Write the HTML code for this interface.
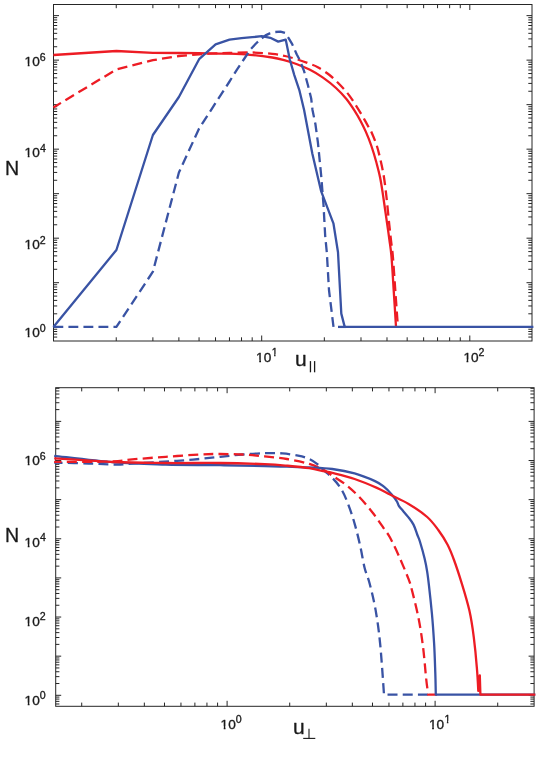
<!DOCTYPE html>
<html><head><meta charset="utf-8"><title>N vs u</title>
<style>
html,body{margin:0;padding:0;background:#fff;}
body{width:538px;height:763px;overflow:hidden;font-family:"Liberation Sans",sans-serif;}
svg{display:block;font-family:"Liberation Sans",sans-serif;}
</style></head><body>
<svg width="538" height="763" viewBox="0 0 538 763">
<rect width="538" height="763" fill="#fff"/>
<line x1="116.24" y1="341.00" x2="116.24" y2="337.30" stroke="#262626" stroke-width="1.0"/>
<line x1="116.24" y1="4.50" x2="116.24" y2="8.20" stroke="#262626" stroke-width="1.0"/>
<line x1="152.89" y1="341.00" x2="152.89" y2="337.30" stroke="#262626" stroke-width="1.0"/>
<line x1="152.89" y1="4.50" x2="152.89" y2="8.20" stroke="#262626" stroke-width="1.0"/>
<line x1="178.89" y1="341.00" x2="178.89" y2="337.30" stroke="#262626" stroke-width="1.0"/>
<line x1="178.89" y1="4.50" x2="178.89" y2="8.20" stroke="#262626" stroke-width="1.0"/>
<line x1="199.06" y1="341.00" x2="199.06" y2="337.30" stroke="#262626" stroke-width="1.0"/>
<line x1="199.06" y1="4.50" x2="199.06" y2="8.20" stroke="#262626" stroke-width="1.0"/>
<line x1="215.53" y1="341.00" x2="215.53" y2="337.30" stroke="#262626" stroke-width="1.0"/>
<line x1="215.53" y1="4.50" x2="215.53" y2="8.20" stroke="#262626" stroke-width="1.0"/>
<line x1="229.46" y1="341.00" x2="229.46" y2="337.30" stroke="#262626" stroke-width="1.0"/>
<line x1="229.46" y1="4.50" x2="229.46" y2="8.20" stroke="#262626" stroke-width="1.0"/>
<line x1="241.53" y1="341.00" x2="241.53" y2="337.30" stroke="#262626" stroke-width="1.0"/>
<line x1="241.53" y1="4.50" x2="241.53" y2="8.20" stroke="#262626" stroke-width="1.0"/>
<line x1="252.18" y1="341.00" x2="252.18" y2="337.30" stroke="#262626" stroke-width="1.0"/>
<line x1="252.18" y1="4.50" x2="252.18" y2="8.20" stroke="#262626" stroke-width="1.0"/>
<line x1="261.70" y1="341.00" x2="261.70" y2="335.50" stroke="#262626" stroke-width="1.0"/>
<line x1="261.70" y1="4.50" x2="261.70" y2="10.00" stroke="#262626" stroke-width="1.0"/>
<line x1="324.34" y1="341.00" x2="324.34" y2="337.30" stroke="#262626" stroke-width="1.0"/>
<line x1="324.34" y1="4.50" x2="324.34" y2="8.20" stroke="#262626" stroke-width="1.0"/>
<line x1="360.99" y1="341.00" x2="360.99" y2="337.30" stroke="#262626" stroke-width="1.0"/>
<line x1="360.99" y1="4.50" x2="360.99" y2="8.20" stroke="#262626" stroke-width="1.0"/>
<line x1="386.99" y1="341.00" x2="386.99" y2="337.30" stroke="#262626" stroke-width="1.0"/>
<line x1="386.99" y1="4.50" x2="386.99" y2="8.20" stroke="#262626" stroke-width="1.0"/>
<line x1="407.16" y1="341.00" x2="407.16" y2="337.30" stroke="#262626" stroke-width="1.0"/>
<line x1="407.16" y1="4.50" x2="407.16" y2="8.20" stroke="#262626" stroke-width="1.0"/>
<line x1="423.63" y1="341.00" x2="423.63" y2="337.30" stroke="#262626" stroke-width="1.0"/>
<line x1="423.63" y1="4.50" x2="423.63" y2="8.20" stroke="#262626" stroke-width="1.0"/>
<line x1="437.56" y1="341.00" x2="437.56" y2="337.30" stroke="#262626" stroke-width="1.0"/>
<line x1="437.56" y1="4.50" x2="437.56" y2="8.20" stroke="#262626" stroke-width="1.0"/>
<line x1="449.63" y1="341.00" x2="449.63" y2="337.30" stroke="#262626" stroke-width="1.0"/>
<line x1="449.63" y1="4.50" x2="449.63" y2="8.20" stroke="#262626" stroke-width="1.0"/>
<line x1="460.28" y1="341.00" x2="460.28" y2="337.30" stroke="#262626" stroke-width="1.0"/>
<line x1="460.28" y1="4.50" x2="460.28" y2="8.20" stroke="#262626" stroke-width="1.0"/>
<line x1="469.80" y1="341.00" x2="469.80" y2="335.50" stroke="#262626" stroke-width="1.0"/>
<line x1="469.80" y1="4.50" x2="469.80" y2="10.00" stroke="#262626" stroke-width="1.0"/>
<line x1="53.50" y1="337.07" x2="57.20" y2="337.07" stroke="#262626" stroke-width="1.0"/>
<line x1="532.00" y1="337.07" x2="528.30" y2="337.07" stroke="#262626" stroke-width="1.0"/>
<line x1="53.50" y1="334.09" x2="57.20" y2="334.09" stroke="#262626" stroke-width="1.0"/>
<line x1="532.00" y1="334.09" x2="528.30" y2="334.09" stroke="#262626" stroke-width="1.0"/>
<line x1="53.50" y1="331.51" x2="57.20" y2="331.51" stroke="#262626" stroke-width="1.0"/>
<line x1="532.00" y1="331.51" x2="528.30" y2="331.51" stroke="#262626" stroke-width="1.0"/>
<line x1="53.50" y1="329.24" x2="57.20" y2="329.24" stroke="#262626" stroke-width="1.0"/>
<line x1="532.00" y1="329.24" x2="528.30" y2="329.24" stroke="#262626" stroke-width="1.0"/>
<line x1="53.50" y1="327.20" x2="59.00" y2="327.20" stroke="#262626" stroke-width="1.0"/>
<line x1="532.00" y1="327.20" x2="526.50" y2="327.20" stroke="#262626" stroke-width="1.0"/>
<line x1="53.50" y1="313.80" x2="57.20" y2="313.80" stroke="#262626" stroke-width="1.0"/>
<line x1="532.00" y1="313.80" x2="528.30" y2="313.80" stroke="#262626" stroke-width="1.0"/>
<line x1="53.50" y1="305.96" x2="57.20" y2="305.96" stroke="#262626" stroke-width="1.0"/>
<line x1="532.00" y1="305.96" x2="528.30" y2="305.96" stroke="#262626" stroke-width="1.0"/>
<line x1="53.50" y1="300.40" x2="57.20" y2="300.40" stroke="#262626" stroke-width="1.0"/>
<line x1="532.00" y1="300.40" x2="528.30" y2="300.40" stroke="#262626" stroke-width="1.0"/>
<line x1="53.50" y1="296.09" x2="57.20" y2="296.09" stroke="#262626" stroke-width="1.0"/>
<line x1="532.00" y1="296.09" x2="528.30" y2="296.09" stroke="#262626" stroke-width="1.0"/>
<line x1="53.50" y1="292.56" x2="57.20" y2="292.56" stroke="#262626" stroke-width="1.0"/>
<line x1="532.00" y1="292.56" x2="528.30" y2="292.56" stroke="#262626" stroke-width="1.0"/>
<line x1="53.50" y1="289.58" x2="57.20" y2="289.58" stroke="#262626" stroke-width="1.0"/>
<line x1="532.00" y1="289.58" x2="528.30" y2="289.58" stroke="#262626" stroke-width="1.0"/>
<line x1="53.50" y1="287.00" x2="57.20" y2="287.00" stroke="#262626" stroke-width="1.0"/>
<line x1="532.00" y1="287.00" x2="528.30" y2="287.00" stroke="#262626" stroke-width="1.0"/>
<line x1="53.50" y1="284.73" x2="57.20" y2="284.73" stroke="#262626" stroke-width="1.0"/>
<line x1="532.00" y1="284.73" x2="528.30" y2="284.73" stroke="#262626" stroke-width="1.0"/>
<line x1="53.50" y1="282.69" x2="59.00" y2="282.69" stroke="#262626" stroke-width="1.0"/>
<line x1="532.00" y1="282.69" x2="526.50" y2="282.69" stroke="#262626" stroke-width="1.0"/>
<line x1="53.50" y1="269.29" x2="57.20" y2="269.29" stroke="#262626" stroke-width="1.0"/>
<line x1="532.00" y1="269.29" x2="528.30" y2="269.29" stroke="#262626" stroke-width="1.0"/>
<line x1="53.50" y1="261.45" x2="57.20" y2="261.45" stroke="#262626" stroke-width="1.0"/>
<line x1="532.00" y1="261.45" x2="528.30" y2="261.45" stroke="#262626" stroke-width="1.0"/>
<line x1="53.50" y1="255.89" x2="57.20" y2="255.89" stroke="#262626" stroke-width="1.0"/>
<line x1="532.00" y1="255.89" x2="528.30" y2="255.89" stroke="#262626" stroke-width="1.0"/>
<line x1="53.50" y1="251.58" x2="57.20" y2="251.58" stroke="#262626" stroke-width="1.0"/>
<line x1="532.00" y1="251.58" x2="528.30" y2="251.58" stroke="#262626" stroke-width="1.0"/>
<line x1="53.50" y1="248.05" x2="57.20" y2="248.05" stroke="#262626" stroke-width="1.0"/>
<line x1="532.00" y1="248.05" x2="528.30" y2="248.05" stroke="#262626" stroke-width="1.0"/>
<line x1="53.50" y1="245.07" x2="57.20" y2="245.07" stroke="#262626" stroke-width="1.0"/>
<line x1="532.00" y1="245.07" x2="528.30" y2="245.07" stroke="#262626" stroke-width="1.0"/>
<line x1="53.50" y1="242.49" x2="57.20" y2="242.49" stroke="#262626" stroke-width="1.0"/>
<line x1="532.00" y1="242.49" x2="528.30" y2="242.49" stroke="#262626" stroke-width="1.0"/>
<line x1="53.50" y1="240.22" x2="57.20" y2="240.22" stroke="#262626" stroke-width="1.0"/>
<line x1="532.00" y1="240.22" x2="528.30" y2="240.22" stroke="#262626" stroke-width="1.0"/>
<line x1="53.50" y1="238.18" x2="59.00" y2="238.18" stroke="#262626" stroke-width="1.0"/>
<line x1="532.00" y1="238.18" x2="526.50" y2="238.18" stroke="#262626" stroke-width="1.0"/>
<line x1="53.50" y1="224.78" x2="57.20" y2="224.78" stroke="#262626" stroke-width="1.0"/>
<line x1="532.00" y1="224.78" x2="528.30" y2="224.78" stroke="#262626" stroke-width="1.0"/>
<line x1="53.50" y1="216.94" x2="57.20" y2="216.94" stroke="#262626" stroke-width="1.0"/>
<line x1="532.00" y1="216.94" x2="528.30" y2="216.94" stroke="#262626" stroke-width="1.0"/>
<line x1="53.50" y1="211.38" x2="57.20" y2="211.38" stroke="#262626" stroke-width="1.0"/>
<line x1="532.00" y1="211.38" x2="528.30" y2="211.38" stroke="#262626" stroke-width="1.0"/>
<line x1="53.50" y1="207.07" x2="57.20" y2="207.07" stroke="#262626" stroke-width="1.0"/>
<line x1="532.00" y1="207.07" x2="528.30" y2="207.07" stroke="#262626" stroke-width="1.0"/>
<line x1="53.50" y1="203.54" x2="57.20" y2="203.54" stroke="#262626" stroke-width="1.0"/>
<line x1="532.00" y1="203.54" x2="528.30" y2="203.54" stroke="#262626" stroke-width="1.0"/>
<line x1="53.50" y1="200.56" x2="57.20" y2="200.56" stroke="#262626" stroke-width="1.0"/>
<line x1="532.00" y1="200.56" x2="528.30" y2="200.56" stroke="#262626" stroke-width="1.0"/>
<line x1="53.50" y1="197.98" x2="57.20" y2="197.98" stroke="#262626" stroke-width="1.0"/>
<line x1="532.00" y1="197.98" x2="528.30" y2="197.98" stroke="#262626" stroke-width="1.0"/>
<line x1="53.50" y1="195.71" x2="57.20" y2="195.71" stroke="#262626" stroke-width="1.0"/>
<line x1="532.00" y1="195.71" x2="528.30" y2="195.71" stroke="#262626" stroke-width="1.0"/>
<line x1="53.50" y1="193.67" x2="59.00" y2="193.67" stroke="#262626" stroke-width="1.0"/>
<line x1="532.00" y1="193.67" x2="526.50" y2="193.67" stroke="#262626" stroke-width="1.0"/>
<line x1="53.50" y1="180.27" x2="57.20" y2="180.27" stroke="#262626" stroke-width="1.0"/>
<line x1="532.00" y1="180.27" x2="528.30" y2="180.27" stroke="#262626" stroke-width="1.0"/>
<line x1="53.50" y1="172.43" x2="57.20" y2="172.43" stroke="#262626" stroke-width="1.0"/>
<line x1="532.00" y1="172.43" x2="528.30" y2="172.43" stroke="#262626" stroke-width="1.0"/>
<line x1="53.50" y1="166.87" x2="57.20" y2="166.87" stroke="#262626" stroke-width="1.0"/>
<line x1="532.00" y1="166.87" x2="528.30" y2="166.87" stroke="#262626" stroke-width="1.0"/>
<line x1="53.50" y1="162.56" x2="57.20" y2="162.56" stroke="#262626" stroke-width="1.0"/>
<line x1="532.00" y1="162.56" x2="528.30" y2="162.56" stroke="#262626" stroke-width="1.0"/>
<line x1="53.50" y1="159.03" x2="57.20" y2="159.03" stroke="#262626" stroke-width="1.0"/>
<line x1="532.00" y1="159.03" x2="528.30" y2="159.03" stroke="#262626" stroke-width="1.0"/>
<line x1="53.50" y1="156.05" x2="57.20" y2="156.05" stroke="#262626" stroke-width="1.0"/>
<line x1="532.00" y1="156.05" x2="528.30" y2="156.05" stroke="#262626" stroke-width="1.0"/>
<line x1="53.50" y1="153.47" x2="57.20" y2="153.47" stroke="#262626" stroke-width="1.0"/>
<line x1="532.00" y1="153.47" x2="528.30" y2="153.47" stroke="#262626" stroke-width="1.0"/>
<line x1="53.50" y1="151.20" x2="57.20" y2="151.20" stroke="#262626" stroke-width="1.0"/>
<line x1="532.00" y1="151.20" x2="528.30" y2="151.20" stroke="#262626" stroke-width="1.0"/>
<line x1="53.50" y1="149.16" x2="59.00" y2="149.16" stroke="#262626" stroke-width="1.0"/>
<line x1="532.00" y1="149.16" x2="526.50" y2="149.16" stroke="#262626" stroke-width="1.0"/>
<line x1="53.50" y1="135.76" x2="57.20" y2="135.76" stroke="#262626" stroke-width="1.0"/>
<line x1="532.00" y1="135.76" x2="528.30" y2="135.76" stroke="#262626" stroke-width="1.0"/>
<line x1="53.50" y1="127.92" x2="57.20" y2="127.92" stroke="#262626" stroke-width="1.0"/>
<line x1="532.00" y1="127.92" x2="528.30" y2="127.92" stroke="#262626" stroke-width="1.0"/>
<line x1="53.50" y1="122.36" x2="57.20" y2="122.36" stroke="#262626" stroke-width="1.0"/>
<line x1="532.00" y1="122.36" x2="528.30" y2="122.36" stroke="#262626" stroke-width="1.0"/>
<line x1="53.50" y1="118.05" x2="57.20" y2="118.05" stroke="#262626" stroke-width="1.0"/>
<line x1="532.00" y1="118.05" x2="528.30" y2="118.05" stroke="#262626" stroke-width="1.0"/>
<line x1="53.50" y1="114.52" x2="57.20" y2="114.52" stroke="#262626" stroke-width="1.0"/>
<line x1="532.00" y1="114.52" x2="528.30" y2="114.52" stroke="#262626" stroke-width="1.0"/>
<line x1="53.50" y1="111.54" x2="57.20" y2="111.54" stroke="#262626" stroke-width="1.0"/>
<line x1="532.00" y1="111.54" x2="528.30" y2="111.54" stroke="#262626" stroke-width="1.0"/>
<line x1="53.50" y1="108.96" x2="57.20" y2="108.96" stroke="#262626" stroke-width="1.0"/>
<line x1="532.00" y1="108.96" x2="528.30" y2="108.96" stroke="#262626" stroke-width="1.0"/>
<line x1="53.50" y1="106.69" x2="57.20" y2="106.69" stroke="#262626" stroke-width="1.0"/>
<line x1="532.00" y1="106.69" x2="528.30" y2="106.69" stroke="#262626" stroke-width="1.0"/>
<line x1="53.50" y1="104.65" x2="59.00" y2="104.65" stroke="#262626" stroke-width="1.0"/>
<line x1="532.00" y1="104.65" x2="526.50" y2="104.65" stroke="#262626" stroke-width="1.0"/>
<line x1="53.50" y1="91.25" x2="57.20" y2="91.25" stroke="#262626" stroke-width="1.0"/>
<line x1="532.00" y1="91.25" x2="528.30" y2="91.25" stroke="#262626" stroke-width="1.0"/>
<line x1="53.50" y1="83.41" x2="57.20" y2="83.41" stroke="#262626" stroke-width="1.0"/>
<line x1="532.00" y1="83.41" x2="528.30" y2="83.41" stroke="#262626" stroke-width="1.0"/>
<line x1="53.50" y1="77.85" x2="57.20" y2="77.85" stroke="#262626" stroke-width="1.0"/>
<line x1="532.00" y1="77.85" x2="528.30" y2="77.85" stroke="#262626" stroke-width="1.0"/>
<line x1="53.50" y1="73.54" x2="57.20" y2="73.54" stroke="#262626" stroke-width="1.0"/>
<line x1="532.00" y1="73.54" x2="528.30" y2="73.54" stroke="#262626" stroke-width="1.0"/>
<line x1="53.50" y1="70.01" x2="57.20" y2="70.01" stroke="#262626" stroke-width="1.0"/>
<line x1="532.00" y1="70.01" x2="528.30" y2="70.01" stroke="#262626" stroke-width="1.0"/>
<line x1="53.50" y1="67.03" x2="57.20" y2="67.03" stroke="#262626" stroke-width="1.0"/>
<line x1="532.00" y1="67.03" x2="528.30" y2="67.03" stroke="#262626" stroke-width="1.0"/>
<line x1="53.50" y1="64.45" x2="57.20" y2="64.45" stroke="#262626" stroke-width="1.0"/>
<line x1="532.00" y1="64.45" x2="528.30" y2="64.45" stroke="#262626" stroke-width="1.0"/>
<line x1="53.50" y1="62.18" x2="57.20" y2="62.18" stroke="#262626" stroke-width="1.0"/>
<line x1="532.00" y1="62.18" x2="528.30" y2="62.18" stroke="#262626" stroke-width="1.0"/>
<line x1="53.50" y1="60.14" x2="59.00" y2="60.14" stroke="#262626" stroke-width="1.0"/>
<line x1="532.00" y1="60.14" x2="526.50" y2="60.14" stroke="#262626" stroke-width="1.0"/>
<line x1="53.50" y1="46.74" x2="57.20" y2="46.74" stroke="#262626" stroke-width="1.0"/>
<line x1="532.00" y1="46.74" x2="528.30" y2="46.74" stroke="#262626" stroke-width="1.0"/>
<line x1="53.50" y1="38.90" x2="57.20" y2="38.90" stroke="#262626" stroke-width="1.0"/>
<line x1="532.00" y1="38.90" x2="528.30" y2="38.90" stroke="#262626" stroke-width="1.0"/>
<line x1="53.50" y1="33.34" x2="57.20" y2="33.34" stroke="#262626" stroke-width="1.0"/>
<line x1="532.00" y1="33.34" x2="528.30" y2="33.34" stroke="#262626" stroke-width="1.0"/>
<line x1="53.50" y1="29.03" x2="57.20" y2="29.03" stroke="#262626" stroke-width="1.0"/>
<line x1="532.00" y1="29.03" x2="528.30" y2="29.03" stroke="#262626" stroke-width="1.0"/>
<line x1="53.50" y1="25.50" x2="57.20" y2="25.50" stroke="#262626" stroke-width="1.0"/>
<line x1="532.00" y1="25.50" x2="528.30" y2="25.50" stroke="#262626" stroke-width="1.0"/>
<line x1="53.50" y1="22.52" x2="57.20" y2="22.52" stroke="#262626" stroke-width="1.0"/>
<line x1="532.00" y1="22.52" x2="528.30" y2="22.52" stroke="#262626" stroke-width="1.0"/>
<line x1="53.50" y1="19.94" x2="57.20" y2="19.94" stroke="#262626" stroke-width="1.0"/>
<line x1="532.00" y1="19.94" x2="528.30" y2="19.94" stroke="#262626" stroke-width="1.0"/>
<line x1="53.50" y1="17.67" x2="57.20" y2="17.67" stroke="#262626" stroke-width="1.0"/>
<line x1="532.00" y1="17.67" x2="528.30" y2="17.67" stroke="#262626" stroke-width="1.0"/>
<line x1="53.50" y1="15.63" x2="59.00" y2="15.63" stroke="#262626" stroke-width="1.0"/>
<line x1="532.00" y1="15.63" x2="526.50" y2="15.63" stroke="#262626" stroke-width="1.0"/>
<rect x="53.50" y="4.50" width="478.50" height="336.50" fill="none" stroke="#262626" stroke-width="1"/>
<path d="M53.4,107.4 L116.4,69.5 L152.9,60.2 L178.9,56.0 L199.1,54.3 C201.8,54.1 210.5,53.6 215.6,53.4 C220.7,53.2 223.9,53.2 229.5,53.0 C235.1,52.8 242.1,52.3 249.2,52.4 C256.3,52.5 266.3,53.2 272.3,53.8 C278.3,54.4 280.9,55.1 285.0,56.0 C289.1,56.9 292.8,58.0 297.0,59.3 C301.2,60.6 306.5,62.6 310.0,63.9 C313.5,65.2 314.6,65.4 317.8,67.2 C321.1,69.0 325.8,72.1 329.5,75.0 C333.2,77.9 336.6,81.4 339.9,84.7 C343.1,88.0 346.2,91.4 349.0,95.1 C351.8,98.8 354.2,102.7 356.8,106.8 C359.4,110.9 362.5,116.2 364.6,119.8 C366.7,123.4 368.1,126.3 369.2,128.3 C370.3,130.3 370.1,129.0 371.4,131.9 C372.7,134.8 375.3,141.0 376.9,146.0 C378.5,151.0 379.7,156.6 380.9,161.8 C382.1,167.1 383.1,171.7 384.0,177.5 C384.9,183.3 385.5,188.5 386.4,196.4 C387.3,204.3 388.5,217.5 389.3,224.8 C390.1,232.2 390.4,235.2 391.0,240.5 C391.6,245.8 392.2,248.2 392.9,256.8 C393.6,265.4 394.6,280.3 395.4,292.0 C396.2,303.7 397.5,321.0 397.9,326.8" fill="none" stroke="#ed1c24" stroke-width="2.3" stroke-linejoin="round" stroke-dasharray="10 5.2" stroke-dashoffset="1.2"/>
<path d="M53.4,55.0 L116.4,51.0 L152.9,52.8 L178.9,53.0 L199.1,53.2 C203.8,53.3 218.5,53.3 227.0,53.6 C235.5,53.9 242.4,54.1 250.0,54.8 C257.6,55.4 266.5,56.6 272.3,57.5 C278.1,58.4 280.9,59.3 285.0,60.4 C289.1,61.5 292.8,62.6 297.0,64.2 C301.2,65.8 305.7,67.6 310.0,69.8 C314.3,72.0 318.7,74.6 323.0,77.6 C327.3,80.6 332.1,84.4 336.0,88.0 C339.9,91.6 343.4,95.3 346.4,99.0 C349.4,102.7 351.8,106.4 354.2,110.1 C356.6,113.8 358.8,117.6 360.7,121.2 C362.6,124.8 364.1,127.8 365.9,131.9 C367.7,136.0 369.7,141.0 371.4,146.0 C373.1,151.0 374.8,156.6 376.2,161.8 C377.6,167.1 378.9,171.7 380.1,177.5 C381.3,183.3 382.0,188.5 383.2,196.4 C384.4,204.3 386.2,217.5 387.3,224.8 C388.4,232.2 388.8,235.2 389.5,240.5 C390.2,245.8 390.8,248.2 391.5,256.8 C392.2,265.4 393.1,280.3 393.8,292.0 C394.6,303.7 395.6,321.0 396.0,326.8" fill="none" stroke="#ed1c24" stroke-width="2.3" stroke-linejoin="round"/>
<path d="M53.4,326.9 L116.4,326.9 L152.9,271.7 L178.9,172.5 L199.1,128.5 L215.6,103.0 L229.2,82.0 L236.8,69.8 L243.4,60.0 L251.0,48.8 L256.0,43.5 L260.4,39.4 L265.5,35.4 L269.8,33.4 L275.3,32.0" fill="none" stroke="#3953a4" stroke-width="2.3" stroke-linejoin="round" stroke-dasharray="9.880 5.137" stroke-dashoffset="0"/>
<path d="M275.3,32.0 L280.5,31.6 L285.1,33.0 L288.3,37.6 L292.2,44.1 L296.8,54.5 L299.5,59.5 L304.1,71.2 L308.0,85.5 L311.2,98.5 L312.5,110.0 L315.4,124.0 L317.9,142.3 L321.2,175.8 L323.5,204.8 L325.2,236.0 L326.8,252.3 L329.0,290.2 L333.5,326.9" fill="none" stroke="#3953a4" stroke-width="2.3" stroke-linejoin="round" stroke-dasharray="9.895 5.145" stroke-dashoffset="0"/>
<path d="M338.0,326.9 L346.0,326.9" fill="none" stroke="#3953a4" stroke-width="2.3" stroke-linejoin="round"/>
<path d="M53.4,326.9 L116.4,250.0 L152.9,135.0 L178.9,97.0 L199.1,59.2 L215.6,44.4 L229.5,39.6 L241.5,38.2 L252.2,37.2 L261.7,36.2 L270.3,37.8 L278.2,41.6 L285.7,39.6 L289.8,59.5 L294.3,75.1 L299.5,90.7 L304.1,110.0 L312.3,153.5 L321.2,191.4 L333.5,223.7 L338.0,252.3 L341.3,313.6 L344.7,326.9 L533.4,326.9" fill="none" stroke="#3953a4" stroke-width="2.3" stroke-linejoin="round"/>
<line x1="310.45" y1="361.10" x2="310.45" y2="372.30" stroke="#1a1a1a" stroke-width="1.3"/>
<line x1="314.60" y1="361.10" x2="314.60" y2="372.30" stroke="#1a1a1a" stroke-width="1.3"/>
<line x1="81.71" y1="706.30" x2="81.71" y2="702.60" stroke="#262626" stroke-width="1.0"/>
<line x1="81.71" y1="387.70" x2="81.71" y2="391.40" stroke="#262626" stroke-width="1.0"/>
<line x1="118.34" y1="706.30" x2="118.34" y2="702.60" stroke="#262626" stroke-width="1.0"/>
<line x1="118.34" y1="387.70" x2="118.34" y2="391.40" stroke="#262626" stroke-width="1.0"/>
<line x1="144.33" y1="706.30" x2="144.33" y2="702.60" stroke="#262626" stroke-width="1.0"/>
<line x1="144.33" y1="387.70" x2="144.33" y2="391.40" stroke="#262626" stroke-width="1.0"/>
<line x1="164.49" y1="706.30" x2="164.49" y2="702.60" stroke="#262626" stroke-width="1.0"/>
<line x1="164.49" y1="387.70" x2="164.49" y2="391.40" stroke="#262626" stroke-width="1.0"/>
<line x1="180.96" y1="706.30" x2="180.96" y2="702.60" stroke="#262626" stroke-width="1.0"/>
<line x1="180.96" y1="387.70" x2="180.96" y2="391.40" stroke="#262626" stroke-width="1.0"/>
<line x1="194.88" y1="706.30" x2="194.88" y2="702.60" stroke="#262626" stroke-width="1.0"/>
<line x1="194.88" y1="387.70" x2="194.88" y2="391.40" stroke="#262626" stroke-width="1.0"/>
<line x1="206.94" y1="706.30" x2="206.94" y2="702.60" stroke="#262626" stroke-width="1.0"/>
<line x1="206.94" y1="387.70" x2="206.94" y2="391.40" stroke="#262626" stroke-width="1.0"/>
<line x1="217.58" y1="706.30" x2="217.58" y2="702.60" stroke="#262626" stroke-width="1.0"/>
<line x1="217.58" y1="387.70" x2="217.58" y2="391.40" stroke="#262626" stroke-width="1.0"/>
<line x1="227.10" y1="706.30" x2="227.10" y2="700.80" stroke="#262626" stroke-width="1.0"/>
<line x1="227.10" y1="387.70" x2="227.10" y2="393.20" stroke="#262626" stroke-width="1.0"/>
<line x1="289.71" y1="706.30" x2="289.71" y2="702.60" stroke="#262626" stroke-width="1.0"/>
<line x1="289.71" y1="387.70" x2="289.71" y2="391.40" stroke="#262626" stroke-width="1.0"/>
<line x1="326.34" y1="706.30" x2="326.34" y2="702.60" stroke="#262626" stroke-width="1.0"/>
<line x1="326.34" y1="387.70" x2="326.34" y2="391.40" stroke="#262626" stroke-width="1.0"/>
<line x1="352.33" y1="706.30" x2="352.33" y2="702.60" stroke="#262626" stroke-width="1.0"/>
<line x1="352.33" y1="387.70" x2="352.33" y2="391.40" stroke="#262626" stroke-width="1.0"/>
<line x1="372.49" y1="706.30" x2="372.49" y2="702.60" stroke="#262626" stroke-width="1.0"/>
<line x1="372.49" y1="387.70" x2="372.49" y2="391.40" stroke="#262626" stroke-width="1.0"/>
<line x1="388.96" y1="706.30" x2="388.96" y2="702.60" stroke="#262626" stroke-width="1.0"/>
<line x1="388.96" y1="387.70" x2="388.96" y2="391.40" stroke="#262626" stroke-width="1.0"/>
<line x1="402.88" y1="706.30" x2="402.88" y2="702.60" stroke="#262626" stroke-width="1.0"/>
<line x1="402.88" y1="387.70" x2="402.88" y2="391.40" stroke="#262626" stroke-width="1.0"/>
<line x1="414.94" y1="706.30" x2="414.94" y2="702.60" stroke="#262626" stroke-width="1.0"/>
<line x1="414.94" y1="387.70" x2="414.94" y2="391.40" stroke="#262626" stroke-width="1.0"/>
<line x1="425.58" y1="706.30" x2="425.58" y2="702.60" stroke="#262626" stroke-width="1.0"/>
<line x1="425.58" y1="387.70" x2="425.58" y2="391.40" stroke="#262626" stroke-width="1.0"/>
<line x1="435.10" y1="706.30" x2="435.10" y2="700.80" stroke="#262626" stroke-width="1.0"/>
<line x1="435.10" y1="387.70" x2="435.10" y2="393.20" stroke="#262626" stroke-width="1.0"/>
<line x1="497.71" y1="706.30" x2="497.71" y2="702.60" stroke="#262626" stroke-width="1.0"/>
<line x1="497.71" y1="387.70" x2="497.71" y2="391.40" stroke="#262626" stroke-width="1.0"/>
<line x1="55.70" y1="703.98" x2="59.40" y2="703.98" stroke="#262626" stroke-width="1.0"/>
<line x1="534.10" y1="703.98" x2="530.40" y2="703.98" stroke="#262626" stroke-width="1.0"/>
<line x1="55.70" y1="701.36" x2="59.40" y2="701.36" stroke="#262626" stroke-width="1.0"/>
<line x1="534.10" y1="701.36" x2="530.40" y2="701.36" stroke="#262626" stroke-width="1.0"/>
<line x1="55.70" y1="699.09" x2="59.40" y2="699.09" stroke="#262626" stroke-width="1.0"/>
<line x1="534.10" y1="699.09" x2="530.40" y2="699.09" stroke="#262626" stroke-width="1.0"/>
<line x1="55.70" y1="697.09" x2="59.40" y2="697.09" stroke="#262626" stroke-width="1.0"/>
<line x1="534.10" y1="697.09" x2="530.40" y2="697.09" stroke="#262626" stroke-width="1.0"/>
<line x1="55.70" y1="695.30" x2="61.20" y2="695.30" stroke="#262626" stroke-width="1.0"/>
<line x1="534.10" y1="695.30" x2="528.60" y2="695.30" stroke="#262626" stroke-width="1.0"/>
<line x1="55.70" y1="683.52" x2="59.40" y2="683.52" stroke="#262626" stroke-width="1.0"/>
<line x1="534.10" y1="683.52" x2="530.40" y2="683.52" stroke="#262626" stroke-width="1.0"/>
<line x1="55.70" y1="676.63" x2="59.40" y2="676.63" stroke="#262626" stroke-width="1.0"/>
<line x1="534.10" y1="676.63" x2="530.40" y2="676.63" stroke="#262626" stroke-width="1.0"/>
<line x1="55.70" y1="671.74" x2="59.40" y2="671.74" stroke="#262626" stroke-width="1.0"/>
<line x1="534.10" y1="671.74" x2="530.40" y2="671.74" stroke="#262626" stroke-width="1.0"/>
<line x1="55.70" y1="667.95" x2="59.40" y2="667.95" stroke="#262626" stroke-width="1.0"/>
<line x1="534.10" y1="667.95" x2="530.40" y2="667.95" stroke="#262626" stroke-width="1.0"/>
<line x1="55.70" y1="664.85" x2="59.40" y2="664.85" stroke="#262626" stroke-width="1.0"/>
<line x1="534.10" y1="664.85" x2="530.40" y2="664.85" stroke="#262626" stroke-width="1.0"/>
<line x1="55.70" y1="662.23" x2="59.40" y2="662.23" stroke="#262626" stroke-width="1.0"/>
<line x1="534.10" y1="662.23" x2="530.40" y2="662.23" stroke="#262626" stroke-width="1.0"/>
<line x1="55.70" y1="659.96" x2="59.40" y2="659.96" stroke="#262626" stroke-width="1.0"/>
<line x1="534.10" y1="659.96" x2="530.40" y2="659.96" stroke="#262626" stroke-width="1.0"/>
<line x1="55.70" y1="657.96" x2="59.40" y2="657.96" stroke="#262626" stroke-width="1.0"/>
<line x1="534.10" y1="657.96" x2="530.40" y2="657.96" stroke="#262626" stroke-width="1.0"/>
<line x1="55.70" y1="656.17" x2="61.20" y2="656.17" stroke="#262626" stroke-width="1.0"/>
<line x1="534.10" y1="656.17" x2="528.60" y2="656.17" stroke="#262626" stroke-width="1.0"/>
<line x1="55.70" y1="644.39" x2="59.40" y2="644.39" stroke="#262626" stroke-width="1.0"/>
<line x1="534.10" y1="644.39" x2="530.40" y2="644.39" stroke="#262626" stroke-width="1.0"/>
<line x1="55.70" y1="637.50" x2="59.40" y2="637.50" stroke="#262626" stroke-width="1.0"/>
<line x1="534.10" y1="637.50" x2="530.40" y2="637.50" stroke="#262626" stroke-width="1.0"/>
<line x1="55.70" y1="632.61" x2="59.40" y2="632.61" stroke="#262626" stroke-width="1.0"/>
<line x1="534.10" y1="632.61" x2="530.40" y2="632.61" stroke="#262626" stroke-width="1.0"/>
<line x1="55.70" y1="628.82" x2="59.40" y2="628.82" stroke="#262626" stroke-width="1.0"/>
<line x1="534.10" y1="628.82" x2="530.40" y2="628.82" stroke="#262626" stroke-width="1.0"/>
<line x1="55.70" y1="625.72" x2="59.40" y2="625.72" stroke="#262626" stroke-width="1.0"/>
<line x1="534.10" y1="625.72" x2="530.40" y2="625.72" stroke="#262626" stroke-width="1.0"/>
<line x1="55.70" y1="623.10" x2="59.40" y2="623.10" stroke="#262626" stroke-width="1.0"/>
<line x1="534.10" y1="623.10" x2="530.40" y2="623.10" stroke="#262626" stroke-width="1.0"/>
<line x1="55.70" y1="620.83" x2="59.40" y2="620.83" stroke="#262626" stroke-width="1.0"/>
<line x1="534.10" y1="620.83" x2="530.40" y2="620.83" stroke="#262626" stroke-width="1.0"/>
<line x1="55.70" y1="618.83" x2="59.40" y2="618.83" stroke="#262626" stroke-width="1.0"/>
<line x1="534.10" y1="618.83" x2="530.40" y2="618.83" stroke="#262626" stroke-width="1.0"/>
<line x1="55.70" y1="617.04" x2="61.20" y2="617.04" stroke="#262626" stroke-width="1.0"/>
<line x1="534.10" y1="617.04" x2="528.60" y2="617.04" stroke="#262626" stroke-width="1.0"/>
<line x1="55.70" y1="605.26" x2="59.40" y2="605.26" stroke="#262626" stroke-width="1.0"/>
<line x1="534.10" y1="605.26" x2="530.40" y2="605.26" stroke="#262626" stroke-width="1.0"/>
<line x1="55.70" y1="598.37" x2="59.40" y2="598.37" stroke="#262626" stroke-width="1.0"/>
<line x1="534.10" y1="598.37" x2="530.40" y2="598.37" stroke="#262626" stroke-width="1.0"/>
<line x1="55.70" y1="593.48" x2="59.40" y2="593.48" stroke="#262626" stroke-width="1.0"/>
<line x1="534.10" y1="593.48" x2="530.40" y2="593.48" stroke="#262626" stroke-width="1.0"/>
<line x1="55.70" y1="589.69" x2="59.40" y2="589.69" stroke="#262626" stroke-width="1.0"/>
<line x1="534.10" y1="589.69" x2="530.40" y2="589.69" stroke="#262626" stroke-width="1.0"/>
<line x1="55.70" y1="586.59" x2="59.40" y2="586.59" stroke="#262626" stroke-width="1.0"/>
<line x1="534.10" y1="586.59" x2="530.40" y2="586.59" stroke="#262626" stroke-width="1.0"/>
<line x1="55.70" y1="583.97" x2="59.40" y2="583.97" stroke="#262626" stroke-width="1.0"/>
<line x1="534.10" y1="583.97" x2="530.40" y2="583.97" stroke="#262626" stroke-width="1.0"/>
<line x1="55.70" y1="581.70" x2="59.40" y2="581.70" stroke="#262626" stroke-width="1.0"/>
<line x1="534.10" y1="581.70" x2="530.40" y2="581.70" stroke="#262626" stroke-width="1.0"/>
<line x1="55.70" y1="579.70" x2="59.40" y2="579.70" stroke="#262626" stroke-width="1.0"/>
<line x1="534.10" y1="579.70" x2="530.40" y2="579.70" stroke="#262626" stroke-width="1.0"/>
<line x1="55.70" y1="577.91" x2="61.20" y2="577.91" stroke="#262626" stroke-width="1.0"/>
<line x1="534.10" y1="577.91" x2="528.60" y2="577.91" stroke="#262626" stroke-width="1.0"/>
<line x1="55.70" y1="566.13" x2="59.40" y2="566.13" stroke="#262626" stroke-width="1.0"/>
<line x1="534.10" y1="566.13" x2="530.40" y2="566.13" stroke="#262626" stroke-width="1.0"/>
<line x1="55.70" y1="559.24" x2="59.40" y2="559.24" stroke="#262626" stroke-width="1.0"/>
<line x1="534.10" y1="559.24" x2="530.40" y2="559.24" stroke="#262626" stroke-width="1.0"/>
<line x1="55.70" y1="554.35" x2="59.40" y2="554.35" stroke="#262626" stroke-width="1.0"/>
<line x1="534.10" y1="554.35" x2="530.40" y2="554.35" stroke="#262626" stroke-width="1.0"/>
<line x1="55.70" y1="550.56" x2="59.40" y2="550.56" stroke="#262626" stroke-width="1.0"/>
<line x1="534.10" y1="550.56" x2="530.40" y2="550.56" stroke="#262626" stroke-width="1.0"/>
<line x1="55.70" y1="547.46" x2="59.40" y2="547.46" stroke="#262626" stroke-width="1.0"/>
<line x1="534.10" y1="547.46" x2="530.40" y2="547.46" stroke="#262626" stroke-width="1.0"/>
<line x1="55.70" y1="544.84" x2="59.40" y2="544.84" stroke="#262626" stroke-width="1.0"/>
<line x1="534.10" y1="544.84" x2="530.40" y2="544.84" stroke="#262626" stroke-width="1.0"/>
<line x1="55.70" y1="542.57" x2="59.40" y2="542.57" stroke="#262626" stroke-width="1.0"/>
<line x1="534.10" y1="542.57" x2="530.40" y2="542.57" stroke="#262626" stroke-width="1.0"/>
<line x1="55.70" y1="540.57" x2="59.40" y2="540.57" stroke="#262626" stroke-width="1.0"/>
<line x1="534.10" y1="540.57" x2="530.40" y2="540.57" stroke="#262626" stroke-width="1.0"/>
<line x1="55.70" y1="538.78" x2="61.20" y2="538.78" stroke="#262626" stroke-width="1.0"/>
<line x1="534.10" y1="538.78" x2="528.60" y2="538.78" stroke="#262626" stroke-width="1.0"/>
<line x1="55.70" y1="527.00" x2="59.40" y2="527.00" stroke="#262626" stroke-width="1.0"/>
<line x1="534.10" y1="527.00" x2="530.40" y2="527.00" stroke="#262626" stroke-width="1.0"/>
<line x1="55.70" y1="520.11" x2="59.40" y2="520.11" stroke="#262626" stroke-width="1.0"/>
<line x1="534.10" y1="520.11" x2="530.40" y2="520.11" stroke="#262626" stroke-width="1.0"/>
<line x1="55.70" y1="515.22" x2="59.40" y2="515.22" stroke="#262626" stroke-width="1.0"/>
<line x1="534.10" y1="515.22" x2="530.40" y2="515.22" stroke="#262626" stroke-width="1.0"/>
<line x1="55.70" y1="511.43" x2="59.40" y2="511.43" stroke="#262626" stroke-width="1.0"/>
<line x1="534.10" y1="511.43" x2="530.40" y2="511.43" stroke="#262626" stroke-width="1.0"/>
<line x1="55.70" y1="508.33" x2="59.40" y2="508.33" stroke="#262626" stroke-width="1.0"/>
<line x1="534.10" y1="508.33" x2="530.40" y2="508.33" stroke="#262626" stroke-width="1.0"/>
<line x1="55.70" y1="505.71" x2="59.40" y2="505.71" stroke="#262626" stroke-width="1.0"/>
<line x1="534.10" y1="505.71" x2="530.40" y2="505.71" stroke="#262626" stroke-width="1.0"/>
<line x1="55.70" y1="503.44" x2="59.40" y2="503.44" stroke="#262626" stroke-width="1.0"/>
<line x1="534.10" y1="503.44" x2="530.40" y2="503.44" stroke="#262626" stroke-width="1.0"/>
<line x1="55.70" y1="501.44" x2="59.40" y2="501.44" stroke="#262626" stroke-width="1.0"/>
<line x1="534.10" y1="501.44" x2="530.40" y2="501.44" stroke="#262626" stroke-width="1.0"/>
<line x1="55.70" y1="499.65" x2="61.20" y2="499.65" stroke="#262626" stroke-width="1.0"/>
<line x1="534.10" y1="499.65" x2="528.60" y2="499.65" stroke="#262626" stroke-width="1.0"/>
<line x1="55.70" y1="487.87" x2="59.40" y2="487.87" stroke="#262626" stroke-width="1.0"/>
<line x1="534.10" y1="487.87" x2="530.40" y2="487.87" stroke="#262626" stroke-width="1.0"/>
<line x1="55.70" y1="480.98" x2="59.40" y2="480.98" stroke="#262626" stroke-width="1.0"/>
<line x1="534.10" y1="480.98" x2="530.40" y2="480.98" stroke="#262626" stroke-width="1.0"/>
<line x1="55.70" y1="476.09" x2="59.40" y2="476.09" stroke="#262626" stroke-width="1.0"/>
<line x1="534.10" y1="476.09" x2="530.40" y2="476.09" stroke="#262626" stroke-width="1.0"/>
<line x1="55.70" y1="472.30" x2="59.40" y2="472.30" stroke="#262626" stroke-width="1.0"/>
<line x1="534.10" y1="472.30" x2="530.40" y2="472.30" stroke="#262626" stroke-width="1.0"/>
<line x1="55.70" y1="469.20" x2="59.40" y2="469.20" stroke="#262626" stroke-width="1.0"/>
<line x1="534.10" y1="469.20" x2="530.40" y2="469.20" stroke="#262626" stroke-width="1.0"/>
<line x1="55.70" y1="466.58" x2="59.40" y2="466.58" stroke="#262626" stroke-width="1.0"/>
<line x1="534.10" y1="466.58" x2="530.40" y2="466.58" stroke="#262626" stroke-width="1.0"/>
<line x1="55.70" y1="464.31" x2="59.40" y2="464.31" stroke="#262626" stroke-width="1.0"/>
<line x1="534.10" y1="464.31" x2="530.40" y2="464.31" stroke="#262626" stroke-width="1.0"/>
<line x1="55.70" y1="462.31" x2="59.40" y2="462.31" stroke="#262626" stroke-width="1.0"/>
<line x1="534.10" y1="462.31" x2="530.40" y2="462.31" stroke="#262626" stroke-width="1.0"/>
<line x1="55.70" y1="460.52" x2="61.20" y2="460.52" stroke="#262626" stroke-width="1.0"/>
<line x1="534.10" y1="460.52" x2="528.60" y2="460.52" stroke="#262626" stroke-width="1.0"/>
<line x1="55.70" y1="448.74" x2="59.40" y2="448.74" stroke="#262626" stroke-width="1.0"/>
<line x1="534.10" y1="448.74" x2="530.40" y2="448.74" stroke="#262626" stroke-width="1.0"/>
<line x1="55.70" y1="441.85" x2="59.40" y2="441.85" stroke="#262626" stroke-width="1.0"/>
<line x1="534.10" y1="441.85" x2="530.40" y2="441.85" stroke="#262626" stroke-width="1.0"/>
<line x1="55.70" y1="436.96" x2="59.40" y2="436.96" stroke="#262626" stroke-width="1.0"/>
<line x1="534.10" y1="436.96" x2="530.40" y2="436.96" stroke="#262626" stroke-width="1.0"/>
<line x1="55.70" y1="433.17" x2="59.40" y2="433.17" stroke="#262626" stroke-width="1.0"/>
<line x1="534.10" y1="433.17" x2="530.40" y2="433.17" stroke="#262626" stroke-width="1.0"/>
<line x1="55.70" y1="430.07" x2="59.40" y2="430.07" stroke="#262626" stroke-width="1.0"/>
<line x1="534.10" y1="430.07" x2="530.40" y2="430.07" stroke="#262626" stroke-width="1.0"/>
<line x1="55.70" y1="427.45" x2="59.40" y2="427.45" stroke="#262626" stroke-width="1.0"/>
<line x1="534.10" y1="427.45" x2="530.40" y2="427.45" stroke="#262626" stroke-width="1.0"/>
<line x1="55.70" y1="425.18" x2="59.40" y2="425.18" stroke="#262626" stroke-width="1.0"/>
<line x1="534.10" y1="425.18" x2="530.40" y2="425.18" stroke="#262626" stroke-width="1.0"/>
<line x1="55.70" y1="423.18" x2="59.40" y2="423.18" stroke="#262626" stroke-width="1.0"/>
<line x1="534.10" y1="423.18" x2="530.40" y2="423.18" stroke="#262626" stroke-width="1.0"/>
<line x1="55.70" y1="421.39" x2="61.20" y2="421.39" stroke="#262626" stroke-width="1.0"/>
<line x1="534.10" y1="421.39" x2="528.60" y2="421.39" stroke="#262626" stroke-width="1.0"/>
<line x1="55.70" y1="409.61" x2="59.40" y2="409.61" stroke="#262626" stroke-width="1.0"/>
<line x1="534.10" y1="409.61" x2="530.40" y2="409.61" stroke="#262626" stroke-width="1.0"/>
<line x1="55.70" y1="402.72" x2="59.40" y2="402.72" stroke="#262626" stroke-width="1.0"/>
<line x1="534.10" y1="402.72" x2="530.40" y2="402.72" stroke="#262626" stroke-width="1.0"/>
<line x1="55.70" y1="397.83" x2="59.40" y2="397.83" stroke="#262626" stroke-width="1.0"/>
<line x1="534.10" y1="397.83" x2="530.40" y2="397.83" stroke="#262626" stroke-width="1.0"/>
<line x1="55.70" y1="394.04" x2="59.40" y2="394.04" stroke="#262626" stroke-width="1.0"/>
<line x1="534.10" y1="394.04" x2="530.40" y2="394.04" stroke="#262626" stroke-width="1.0"/>
<line x1="55.70" y1="390.94" x2="59.40" y2="390.94" stroke="#262626" stroke-width="1.0"/>
<line x1="534.10" y1="390.94" x2="530.40" y2="390.94" stroke="#262626" stroke-width="1.0"/>
<line x1="55.70" y1="388.32" x2="59.40" y2="388.32" stroke="#262626" stroke-width="1.0"/>
<line x1="534.10" y1="388.32" x2="530.40" y2="388.32" stroke="#262626" stroke-width="1.0"/>
<rect x="55.70" y="387.70" width="478.40" height="318.60" fill="none" stroke="#262626" stroke-width="1"/>
<path d="M54.2,462.6 C60.0,462.8 78.3,463.2 88.7,463.5 C99.1,463.8 109.5,464.6 116.7,464.6 C123.9,464.6 122.0,464.2 132.0,463.6 C142.1,463.0 165.8,461.6 177.0,460.8 C188.2,460.0 192.0,459.7 199.2,459.0 C206.4,458.3 212.8,457.6 220.0,456.8 C227.2,456.1 234.9,455.1 242.3,454.5 C249.7,453.9 257.9,453.4 264.6,453.2 C271.3,453.0 276.9,453.0 282.5,453.4 C288.1,453.8 293.7,454.8 298.1,455.7 C302.6,456.6 305.9,457.5 309.2,459.0 C312.5,460.5 315.7,462.8 318.1,464.6 C320.5,466.5 321.0,467.9 323.4,470.1 C325.8,472.3 329.3,474.8 332.3,477.9 C335.3,481.0 338.6,484.7 341.2,489.0 C343.8,493.3 345.7,497.7 347.9,503.5 C350.1,509.3 352.6,516.5 354.6,523.6 C356.7,530.7 358.5,538.5 360.2,545.9 C361.9,553.3 363.1,561.9 364.7,568.2 C366.3,574.5 367.9,576.7 369.7,583.8 C371.5,590.9 374.0,600.7 375.7,610.6 C377.4,620.5 378.7,629.3 380.1,643.3 C381.5,657.3 383.4,686.1 384.0,694.7 L430.0,694.7" fill="none" stroke="#3953a4" stroke-width="2.3" stroke-linejoin="round" stroke-dasharray="10 5.2" stroke-dashoffset="1.5"/>
<path d="M54.2,461.8 C63.5,461.8 97.0,462.0 110.0,461.6 C123.0,461.2 123.0,460.2 132.3,459.4 C141.6,458.6 154.7,457.6 165.8,456.8 C177.0,456.0 190.2,455.0 199.2,454.5 C208.2,454.0 212.8,454.0 220.0,454.0 C227.2,454.0 234.9,454.1 242.3,454.5 C249.7,454.9 257.2,455.6 264.6,456.3 C272.0,457.1 279.5,457.7 286.9,459.0 C294.3,460.3 302.9,462.0 309.2,463.9 C315.5,465.8 320.9,468.5 324.8,470.5 C328.7,472.5 328.8,473.3 332.3,475.7 C335.8,478.1 341.2,481.1 345.7,484.6 C350.2,488.1 354.6,492.2 359.1,496.8 C363.6,501.4 368.4,507.3 372.5,512.5 C376.6,517.7 380.7,523.9 383.6,528.1 C386.5,532.3 387.4,532.7 390.0,537.5 C392.6,542.3 396.2,549.9 399.3,556.9 C402.4,563.9 406.5,573.7 408.6,579.2 C410.7,584.7 410.2,583.3 411.9,590.0 C413.6,596.7 416.9,609.6 418.8,619.5 C420.7,629.4 422.1,639.3 423.3,649.2 C424.5,659.1 425.4,671.4 426.2,679.0 C427.0,686.6 427.9,692.1 428.3,694.7 L440.0,694.7" fill="none" stroke="#ed1c24" stroke-width="2.3" stroke-linejoin="round" stroke-dasharray="10 5.2" stroke-dashoffset="2.5"/>
<path d="M54.2,455.8 C64.2,456.9 95.3,460.9 113.9,462.4 C132.5,463.9 148.1,464.1 165.8,464.6 C183.5,465.1 203.5,464.9 220.0,465.2 C236.5,465.4 253.5,465.9 264.6,466.1 C275.8,466.4 279.5,466.5 286.9,466.7 C294.3,466.9 301.6,467.0 309.2,467.4 C316.8,467.8 324.7,468.0 332.3,469.0 C339.9,470.0 347.5,471.4 354.6,473.4 C361.7,475.4 370.1,478.9 375.0,481.1 C379.9,483.3 381.1,484.5 383.9,486.7 C386.7,488.9 389.6,492.1 391.7,494.5 C393.8,496.9 395.5,499.2 396.7,501.2 C397.9,503.1 398.0,504.6 399.0,506.2 C400.0,507.8 401.3,508.8 402.9,510.7 C404.5,512.6 406.7,515.1 408.5,517.4 C410.3,519.7 412.0,521.7 413.5,524.6 C415.0,527.5 416.3,532.2 417.4,535.0 C418.5,537.8 418.7,537.6 419.9,541.5 C421.1,545.4 423.4,553.5 424.6,558.5 C425.8,563.5 426.5,567.2 427.2,571.8 C427.9,576.3 428.2,578.8 429.0,585.8 C429.8,592.8 431.0,603.9 431.9,613.5 C432.8,623.1 433.5,633.4 434.1,643.3 C434.7,653.2 435.0,664.4 435.3,673.0 C435.6,681.6 435.7,691.1 435.8,694.7 L535.3,694.7" fill="none" stroke="#3953a4" stroke-width="2.3" stroke-linejoin="round"/>
<path d="M54.2,458.3 C64.2,458.9 95.3,461.2 113.9,462.0 C132.5,462.8 148.1,462.8 165.8,463.0 C183.5,463.2 203.5,462.8 220.0,463.0 C236.5,463.2 253.5,463.7 264.6,464.1 C275.8,464.6 279.5,465.0 286.9,465.7 C294.3,466.4 302.9,467.2 309.2,468.2 C315.5,469.1 320.9,470.6 324.8,471.4 C328.7,472.2 327.3,471.5 332.3,472.8 C337.3,474.1 347.2,476.5 354.6,479.0 C362.0,481.5 371.0,485.3 376.9,487.9 C382.8,490.5 384.7,491.9 390.0,494.6 C395.3,497.3 402.4,500.2 408.6,503.9 C414.8,507.6 422.2,512.6 427.2,517.0 C432.1,521.4 434.9,525.4 438.3,530.0 C441.7,534.6 445.0,539.8 447.6,544.8 C450.2,549.8 451.6,553.5 454.0,560.0 C456.4,566.5 459.3,575.4 461.9,583.8 C464.5,592.2 467.4,601.7 469.4,610.6 C471.4,619.5 472.6,627.9 473.8,637.3 C475.0,646.7 476.1,658.2 476.8,667.1 C477.6,676.0 478.1,686.9 478.3,690.9 L479.8,675.4 L480.4,694.7 L535.3,694.7" fill="none" stroke="#ed1c24" stroke-width="2.3" stroke-linejoin="round"/>
<line x1="303.20" y1="738.40" x2="315.30" y2="738.40" stroke="#1a1a1a" stroke-width="1.1"/>
<line x1="309.00" y1="728.80" x2="309.00" y2="738.40" stroke="#1a1a1a" stroke-width="1.1"/>
<g style="will-change:transform" stroke="#1a1a1a" stroke-width="0.32" stroke-linejoin="round">
<text transform="translate(24.59,66.00) scale(1.09,1)" font-size="12.49" fill="#1a1a1a">10</text>
<text transform="translate(39.68,60.50)" font-size="10.6" fill="#1a1a1a">6</text>
<text transform="translate(24.59,157.30) scale(1.09,1)" font-size="12.49" fill="#1a1a1a">10</text>
<text transform="translate(39.89,151.80)" font-size="10.6" fill="#1a1a1a">4</text>
<text transform="translate(24.59,249.00) scale(1.09,1)" font-size="12.49" fill="#1a1a1a">10</text>
<text transform="translate(39.78,243.50)" font-size="10.6" fill="#1a1a1a">2</text>
<text transform="translate(24.59,337.30) scale(1.09,1)" font-size="12.49" fill="#1a1a1a">10</text>
<text transform="translate(39.68,331.80)" font-size="10.6" fill="#1a1a1a">0</text>
<text transform="translate(256.09,361.90) scale(1.09,1)" font-size="12.49" fill="#1a1a1a">10</text>
<text transform="translate(271.68,356.40)" font-size="10.6" fill="#1a1a1a">1</text>
<text transform="translate(463.39,361.80) scale(1.09,1)" font-size="12.49" fill="#1a1a1a">10</text>
<text transform="translate(478.58,356.30)" font-size="10.6" fill="#1a1a1a">2</text>
<text transform="translate(5.00,174.60)" font-size="19.6" fill="#1a1a1a">N</text>
<text transform="translate(295.00,365.60)" font-size="21" fill="#1a1a1a">u</text>
<text transform="translate(24.59,465.20) scale(1.09,1)" font-size="12.49" fill="#1a1a1a">10</text>
<text transform="translate(39.68,459.70)" font-size="10.6" fill="#1a1a1a">6</text>
<text transform="translate(24.59,546.60) scale(1.09,1)" font-size="12.49" fill="#1a1a1a">10</text>
<text transform="translate(39.89,541.10)" font-size="10.6" fill="#1a1a1a">4</text>
<text transform="translate(24.59,625.70) scale(1.09,1)" font-size="12.49" fill="#1a1a1a">10</text>
<text transform="translate(39.78,620.20)" font-size="10.6" fill="#1a1a1a">2</text>
<text transform="translate(24.59,704.90) scale(1.09,1)" font-size="12.49" fill="#1a1a1a">10</text>
<text transform="translate(39.68,699.40)" font-size="10.6" fill="#1a1a1a">0</text>
<text transform="translate(220.59,728.60) scale(1.09,1)" font-size="12.49" fill="#1a1a1a">10</text>
<text transform="translate(235.68,723.10)" font-size="10.6" fill="#1a1a1a">0</text>
<text transform="translate(428.99,728.60) scale(1.09,1)" font-size="12.49" fill="#1a1a1a">10</text>
<text transform="translate(444.48,723.10)" font-size="10.6" fill="#1a1a1a">1</text>
<text transform="translate(5.00,542.30)" font-size="19.6" fill="#1a1a1a">N</text>
<text transform="translate(293.00,734.00)" font-size="21" fill="#1a1a1a">u</text>
<rect x="24.19" y="63.67" width="3.52" height="3.73" fill="#fff" stroke="none"/>
<rect x="29.52" y="63.67" width="3.15" height="3.73" fill="#fff" stroke="none"/>
<rect x="24.19" y="154.97" width="3.52" height="3.73" fill="#fff" stroke="none"/>
<rect x="29.52" y="154.97" width="3.15" height="3.73" fill="#fff" stroke="none"/>
<rect x="24.19" y="246.67" width="3.52" height="3.73" fill="#fff" stroke="none"/>
<rect x="29.52" y="246.67" width="3.15" height="3.73" fill="#fff" stroke="none"/>
<rect x="24.19" y="334.97" width="3.52" height="3.73" fill="#fff" stroke="none"/>
<rect x="29.52" y="334.97" width="3.15" height="3.73" fill="#fff" stroke="none"/>
<rect x="255.69" y="359.57" width="3.52" height="3.73" fill="#fff" stroke="none"/>
<rect x="261.02" y="359.57" width="3.15" height="3.73" fill="#fff" stroke="none"/>
<rect x="271.37" y="354.21" width="2.68" height="3.59" fill="#fff" stroke="none"/>
<rect x="275.58" y="354.21" width="2.45" height="3.59" fill="#fff" stroke="none"/>
<rect x="462.99" y="359.47" width="3.52" height="3.73" fill="#fff" stroke="none"/>
<rect x="468.32" y="359.47" width="3.15" height="3.73" fill="#fff" stroke="none"/>
<rect x="24.19" y="462.87" width="3.52" height="3.73" fill="#fff" stroke="none"/>
<rect x="29.52" y="462.87" width="3.15" height="3.73" fill="#fff" stroke="none"/>
<rect x="24.19" y="544.27" width="3.52" height="3.73" fill="#fff" stroke="none"/>
<rect x="29.52" y="544.27" width="3.15" height="3.73" fill="#fff" stroke="none"/>
<rect x="24.19" y="623.37" width="3.52" height="3.73" fill="#fff" stroke="none"/>
<rect x="29.52" y="623.37" width="3.15" height="3.73" fill="#fff" stroke="none"/>
<rect x="24.19" y="702.57" width="3.52" height="3.73" fill="#fff" stroke="none"/>
<rect x="29.52" y="702.57" width="3.15" height="3.73" fill="#fff" stroke="none"/>
<rect x="220.19" y="726.27" width="3.52" height="3.73" fill="#fff" stroke="none"/>
<rect x="225.52" y="726.27" width="3.15" height="3.73" fill="#fff" stroke="none"/>
<rect x="428.59" y="726.27" width="3.52" height="3.73" fill="#fff" stroke="none"/>
<rect x="433.92" y="726.27" width="3.15" height="3.73" fill="#fff" stroke="none"/>
<rect x="444.17" y="720.91" width="2.68" height="3.59" fill="#fff" stroke="none"/>
<rect x="448.38" y="720.91" width="2.45" height="3.59" fill="#fff" stroke="none"/>
</g>
</svg>
</body></html>
